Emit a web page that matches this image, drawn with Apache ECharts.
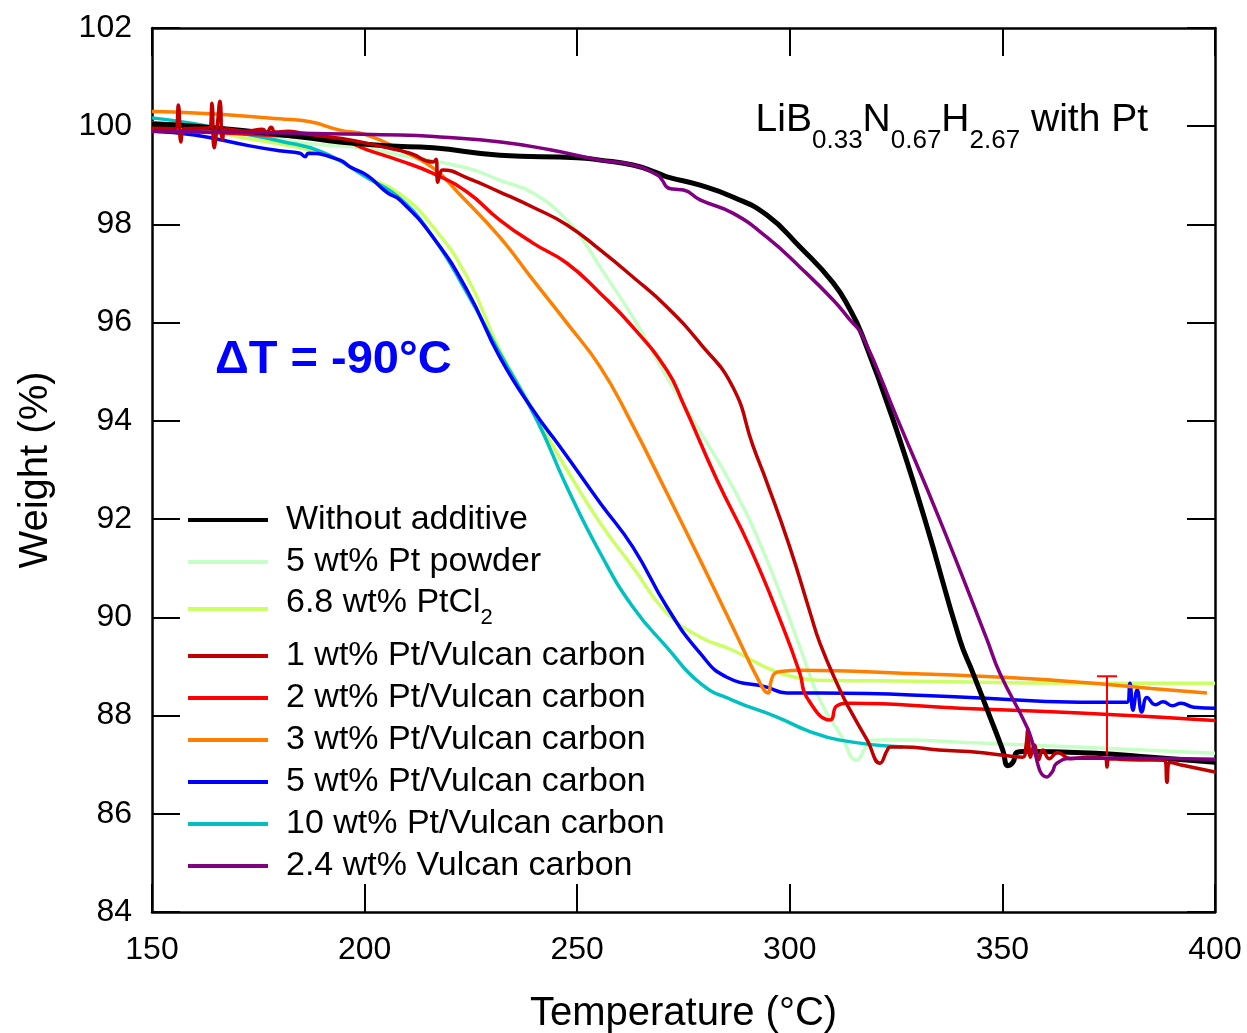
<!DOCTYPE html>
<html>
<head>
<meta charset="utf-8">
<script src="https://cdn.jsdelivr.net/npm/echarts@6/dist/echarts.min.js"></script>
<style>
  html, body { margin: 0; padding: 0; background: #ffffff; }
  #chart { width: 1247px; height: 1033px; }
</style>
</head>
<body>
<div id="chart"></div>
<script>
// Axis ranges and ticks
const xTicks = [150, 200, 250, 300, 350, 400];
const yTicks = [84, 86, 88, 90, 92, 94, 96, 98, 100, 102];

// Series names
const names = [
  'Without additive',
  '5 wt% Pt powder',
  '6.8 wt% PtCl2',
  '1 wt% Pt/Vulcan carbon',
  '2 wt% Pt/Vulcan carbon',
  '3 wt% Pt/Vulcan carbon',
  '5 wt% Pt/Vulcan carbon',
  '10 wt% Pt/Vulcan carbon',
  '2.4 wt% Vulcan carbon'
];

// TGA curves: [temperature (°C), weight (%)]
const noAdditive = [
  [150,100.05],[160,100.0],[170.7,99.92],[185,99.78],[194.2,99.68],[205,99.6],[216.1,99.56],
  [231.8,99.41],[250,99.36],[255.4,99.31],[263.1,99.21],[268.8,99.05],[271.1,98.97],[278.9,98.80],
  [286.6,98.56],[294.6,98.19],[302.4,97.54],[310.2,96.81],[314.2,96.26],[317,95.75],[324.3,94.02],
  [331.8,91.98],[340,89.54],[343.1,88.86],[347.1,87.97],[350.1,87.29],[351.3,86.98],[352.5,87.05],
  [353.4,87.25],[355,87.27],[372,87.23],[385,87.15],[400,87.05]
];
const ptPowder = [
  [150,99.95],[170,99.86],[185.6,99.66],[200,99.55],[208.3,99.41],[224.1,99.15],[231.8,98.9],
  [239.6,98.64],[247.6,98.09],[251.4,97.68],[255.4,97.13],[263.1,96.11],[271.1,94.89],[277.2,94.02],
  [286.6,92.65],[294.6,91.17],[302.4,89.39],[307.1,88.31],[312,87.6],[315.8,87.09],[317.5,87.3],
  [319.6,87.5],[325.2,87.5],[344.7,87.44],[370,87.35],[400,87.23]
];
const ptCl2 = [
  [150,100.07],[160,99.98],[170.7,99.78],[184.8,99.56],[192.6,99.35],[200.6,98.97],[208.3,98.62],
  [216.1,97.95],[224.1,96.93],[231.8,95.44],[239.6,94.24],[243.6,93.6],[247.6,93.0],[255.4,91.92],
  [263.1,91.02],[271.1,90.09],[278.9,89.60],[286.6,89.33],[296,88.92],[302.4,88.76],[307.1,88.72],
  [330,88.7],[368.2,88.66],[400,88.66]
];
const vulcan1 = [
  [150,99.96],[155.5,99.95],[156.2,100.43],[156.8,99.68],[157.5,99.95],[163.5,99.97],[164.1,100.47],
  [164.6,99.56],[165.3,99.98],[166,100.51],[166.6,99.72],[167.3,99.95],[172,99.9],[176,99.94],
  [177,99.86],[178,99.98],[179,99.88],[182,99.9],[185,99.86],[190,99.8],[196.6,99.72],[204.3,99.58],
  [210.7,99.45],[216.1,99.27],[216.8,99.33],[217.2,98.86],[217.8,99.05],[218.4,99.11],[224.1,98.95],
  [231.8,98.66],[239.6,98.35],[247.6,97.99],[255.4,97.48],[263.1,96.93],[271.1,96.32],[278.9,95.58],
  [286.6,94.69],[291.3,93.5],[294.6,92.75],[300,91.43],[304.8,90.09],[307.1,89.47],[311.8,88.52],
  [314.2,88.11],[318.2,87.5],[321.2,87.03],[322.9,87.29],[323.6,87.36],[326.6,87.36],[335,87.3],
  [344.7,87.25],[354.8,87.15],[355.5,87.35],[356,87.72],[356.6,87.15],[357.5,87.4],[358.5,87.1],
  [359.5,87.3],[361,87.12],[363,87.25],[366,87.12],[370,87.15],[374.3,87.12],[374.6,86.95],
  [375,87.12],[380,87.1],[388.2,87.09],[388.7,86.64],[389.3,87.05],[391.8,87.0],[400,86.85]
];
const vulcan2 = [
  [150,99.92],[170,99.85],[185,99.78],[194.2,99.72],[200.6,99.52],[208.3,99.3],[216.1,99.04],
  [224.1,98.66],[231.8,98.09],[239.6,97.62],[247.6,97.21],[255.4,96.60],[263.1,95.91],
  [271.1,95.03],[274.9,94.36],[282.9,92.79],[290.6,91.43],[298.4,89.80],[302.4,88.85],
  [304,88.37],[309.5,87.91],[311.1,88.2],[314.2,88.25],[340,88.15],[368.2,88.05],[400,87.9]
];
const vulcan3 = [
  [150,100.30],[160,100.27],[170,100.22],[180,100.15],[187.2,100.09],[194.2,99.92],[200.6,99.82],
  [208.3,99.52],[216.1,99.15],[222.5,98.6],[231.8,97.74],[239.6,96.87],[247.6,95.99],[255.4,95.10],
  [262.4,94.02],[271.1,92.53],[278.9,91.17],[286.6,89.80],[293,88.66],[294.9,88.46],[295.6,88.7],
  [296.5,88.86],[298.4,88.9],[302.4,88.92],[330,88.85],[350,88.78],[368.2,88.68],[385,88.55],[398.1,88.46]
];
const vulcan5 = [
  [150,99.9],[160,99.82],[173,99.6],[180,99.5],[184.8,99.45],[186,99.38],[186.8,99.45],[194.2,99.31],
  [196.6,99.17],[200.6,99.0],[205.3,98.65],[208.3,98.5],[216.1,97.74],[224.1,96.66],[231.8,95.30],
  [239.6,94.22],[246,93.47],[255.4,92.33],[263.1,91.43],[271.1,90.21],[278.9,89.27],[285.2,88.78],
  [294.6,88.58],[299.3,88.46],[307.1,88.46],[340,88.38],[368.2,88.27],[379.3,88.27],[380,88.66],
  [380.7,88.11],[381.7,88.52],[382.8,88.07],[384,88.37],[386,88.22],[387.8,88.28],[390,88.2],
  [392,88.25],[395,88.17],[400,88.15]
];
const vulcan10 = [
  [150,100.17],[160,100.05],[170.7,99.86],[180,99.7],[190.2,99.47],[200.6,98.95],[208.3,98.53],
  [216.1,97.74],[224.1,96.6],[231.8,95.38],[240.5,94.02],[247.6,92.65],[255.4,91.31],[263.1,90.21],
  [271.1,89.39],[278.9,88.66],[286.6,88.31],[297,87.97],[304,87.70],[311.8,87.50],[326.6,87.36]
];
const vulcanOnly = [
  [150,99.90],[180,99.86],[208.3,99.82],[217.7,99.78],[232,99.68],[243.6,99.52],[255.4,99.31],
  [263.1,99.21],[268.8,99.01],[270,98.9],[271.1,98.76],[272.5,98.72],[275,98.7],[278.9,98.50],
  [286.6,98.23],[294.6,97.74],[302.4,97.13],[310.2,96.46],[314.2,96.05],[317,95.75],[325.4,94.02],
  [335.3,91.98],[346.4,89.54],[349.4,88.86],[355.8,87.76],[360.5,86.75],[361.7,86.85],[362.8,87.03],
  [366.6,87.13],[380,87.13],[400,87.11]
];

// Error bar on the final weight: [temperature, low, high]
const errorBar = [[374.6, 87.2, 88.8]];

const FONT = 'Liberation Sans, Arial, sans-serif';

const curveStyles = {
  'Without additive':        { data: noAdditive, color: '#000000', width: 5 },
  '5 wt% Pt powder':         { data: ptPowder,   color: '#c6ffc6', width: 3.5 },
  '6.8 wt% PtCl2':           { data: ptCl2,      color: '#ccff66', width: 3.5 },
  '1 wt% Pt/Vulcan carbon':  { data: vulcan1,    color: '#c00000', width: 3.5 },
  '2 wt% Pt/Vulcan carbon':  { data: vulcan2,    color: '#ff0000', width: 3.5 },
  '3 wt% Pt/Vulcan carbon':  { data: vulcan3,    color: '#ff8000', width: 3.5 },
  '5 wt% Pt/Vulcan carbon':  { data: vulcan5,    color: '#0000ff', width: 3.5 },
  '10 wt% Pt/Vulcan carbon': { data: vulcan10,   color: '#00c0c0', width: 3.5 },
  '2.4 wt% Vulcan carbon':   { data: vulcanOnly, color: '#800080', width: 3.5 }
};

// drawing order (later on top)
const drawOrder = [
  '5 wt% Pt powder', '6.8 wt% PtCl2', '10 wt% Pt/Vulcan carbon', '5 wt% Pt/Vulcan carbon',
  '3 wt% Pt/Vulcan carbon', '2 wt% Pt/Vulcan carbon', 'Without additive',
  '1 wt% Pt/Vulcan carbon', '2.4 wt% Vulcan carbon'
];

const lineSeries = drawOrder.map(n => ({
  name: n,
  type: 'line',
  data: curveStyles[n].data,
  showSymbol: false,
  symbol: 'none',
  smooth: 0.5,
  color: curveStyles[n].color,
  lineStyle: { color: curveStyles[n].color, width: curveStyles[n].width },
  emphasis: { disabled: true },
  z: 3
}));

const errorSeries = {
  type: 'custom',
  name: 'error',
  data: errorBar,
  z: 4,
  renderItem: function (params, api) {
    const x = api.value(0);
    const lo = api.coord([x, api.value(1)]);
    const hi = api.coord([x, api.value(2)]);
    const cap = 10;
    const st = { stroke: '#ff0000', lineWidth: 2 };
    return {
      type: 'group',
      children: [
        { type: 'line', shape: { x1: lo[0], y1: lo[1], x2: hi[0], y2: hi[1] }, style: st },
        { type: 'line', shape: { x1: hi[0] - cap, y1: hi[1], x2: hi[0] + cap, y2: hi[1] }, style: st }
      ]
    };
  }
};

function frameAxis(pos, isX, showLabel) {
  return {
    type: 'value',
    position: pos,
    min: isX ? xTicks[0] : yTicks[0],
    max: isX ? xTicks[xTicks.length - 1] : yTicks[yTicks.length - 1],
    interval: isX ? 50 : 2,
    axisLine: { show: true, onZero: false, lineStyle: { color: '#000', width: 2.5 } },
    axisTick: { show: true, inside: true, length: 28, lineStyle: { color: '#000', width: 2 } },
    splitLine: { show: false },
    axisLabel: {
      show: showLabel, fontSize: 32, color: '#000', fontFamily: FONT, margin: isX ? 22 : 20
    }
  };
}

const xMain = frameAxis('bottom', true, true);
xMain.name = 'Temperature (°C)';
xMain.nameLocation = 'middle';
xMain.nameGap = 82;
xMain.nameTextStyle = { fontSize: 40, color: '#000', fontFamily: FONT };

const yMain = frameAxis('left', false, true);
yMain.name = 'Weight (%)';
yMain.nameLocation = 'middle';
yMain.nameGap = 96;
yMain.nameRotate = 90;
yMain.nameTextStyle = { fontSize: 40, color: '#000', fontFamily: FONT };

const chart = echarts.init(document.getElementById('chart'), null, { renderer: 'canvas' });

chart.setOption({
  animation: false,
  backgroundColor: '#ffffff',
  grid: { left: 152, right: 32, top: 28, bottom: 121, containLabel: false, outerBoundsMode: 'none' },
  xAxis: [xMain, frameAxis('top', true, false)],
  yAxis: [yMain, frameAxis('right', false, false)],
  legend: {
    orient: 'vertical',
    left: 183,
    top: 496,
    itemWidth: 80,
    itemHeight: 4,
    itemGap: 4,
    icon: 'rect',
    selectedMode: false,
    data: names,
    formatter: function (n) {
      return n === '6.8 wt% PtCl2' ? '{m|6.8 wt% PtCl}{s|2}' : n;
    },
    textStyle: {
      fontSize: 34,
      fontFamily: FONT,
      color: '#000',
      lineHeight: 38,
      padding: [0, 0, 0, 13],
      rich: {
        m: { fontSize: 34, fontFamily: FONT, color: '#000', lineHeight: 48, padding: [0, 0, 12, 0] },
        s: { fontSize: 22, fontFamily: FONT, color: '#000', lineHeight: 20, padding: [18, 0, 0, 0] }
      }
    }
  },
  graphic: [
    {
      type: 'text',
      left: 215,
      top: 337,
      style: { text: 'ΔT = -90°C', font: 'bold 47px ' + FONT, fill: '#0000ff' }
    },
    {
      type: 'text',
      right: 99,
      top: 86,
      style: {
        text: '{m|LiB}{s|0.33}{m|N}{s|0.67}{m|H}{s|2.67}{m| with Pt}',
        rich: {
          m: { font: '39px ' + FONT, fill: '#000', lineHeight: 40 },
          s: { font: '26px ' + FONT, fill: '#000', lineHeight: 40, padding: [42, 0, 0, 0] }
        }
      }
    }
  ],
  series: lineSeries.concat([errorSeries])
});
</script>
</body>
</html>
